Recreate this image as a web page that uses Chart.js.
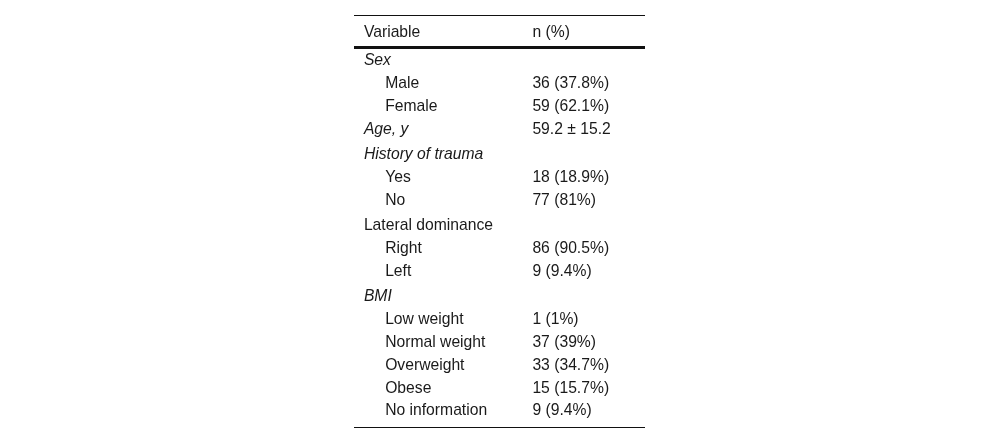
<!DOCTYPE html>
<html lang="en">
<head>
    <meta charset="UTF-8" />
    <title>Patient characteristics</title>
    <script src="https://cdn.jsdelivr.net/npm/chart.js"></script>
    <style>
        html, body { margin: 0; padding: 0; background: #fff; }
        #wrap { width: 1000px; height: 444px; position: relative; }
    </style>
</head>
<body>
    <div id="wrap"><canvas id="tableChart"></canvas></div>

    <script>
        // table content
        const headers = ['Variable', 'n (%)'];
        const groupLabels = ['Sex', 'Age, y', 'History of trauma', 'Lateral dominance', 'BMI'];
        const groupValues = ['', '59.2 \u00b1 15.2', '', '', ''];
        const subLabels = [
            ['Male', 'Female'],
            [],
            ['Yes', 'No'],
            ['Right', 'Left'],
            ['Low weight', 'Normal weight', 'Overweight', 'Obese', 'No information']
        ];
        const subValues = [
            ['36 (37.8%)', '59 (62.1%)'],
            [],
            ['18 (18.9%)', '77 (81%)'],
            ['86 (90.5%)', '9 (9.4%)'],
            ['1 (1%)', '37 (39%)', '33 (34.7%)', '15 (15.7%)', '9 (9.4%)']
        ];

        // styling / layout
        const italicGroups = [true, true, true, false, true];
        const gapBefore = [0, 0, 1, 1, 1];
        const FONT = '"Liberation Sans", Arial, sans-serif';
        const SIZE = 15.7;

        const tablePlugin = {
            id: 'tableText',
            afterDraw(chart) {
                const ctx = chart.ctx;
                const x = chart.scales.x;
                const y = chart.scales.y;
                const area = chart.chartArea;
                const colGroup = x.getPixelForValue(0.034);
                const colSub = x.getPixelForValue(0.107);
                const colVal = x.getPixelForValue(0.613);

                ctx.save();
                ctx.fillStyle = '#1a1a1a';
                ctx.strokeStyle = '#111';
                ctx.textBaseline = 'alphabetic';
                ctx.textAlign = 'left';

                // rules
                const hline = (py, w) => {
                    ctx.lineWidth = w;
                    ctx.beginPath();
                    ctx.moveTo(area.left, py);
                    ctx.lineTo(area.right, py);
                    ctx.stroke();
                };
                hline(Math.round(y.getPixelForValue(0)) + 0.5, 1);
                hline(Math.round(y.getPixelForValue(1.42)) + 0.5, 3);
                hline(Math.round(y.getPixelForValue(y.max)) - 0.5, 1);

                // header
                ctx.font = SIZE + 'px ' + FONT;
                let hy = y.getPixelForValue(0.95);
                ctx.fillText(headers[0], colGroup, hy);
                ctx.fillText(headers[1], colVal, hy);

                // body rows
                let row = 0;
                let gaps = 0;
                groupLabels.forEach((g, gi) => {
                    gaps += gapBefore[gi];
                    const py = y.getPixelForValue(2.19 + row + gaps * 0.11);
                    ctx.font = (italicGroups[gi] ? 'italic ' : '') + SIZE + 'px ' + FONT;
                    ctx.fillText(g, colGroup, py);
                    ctx.font = SIZE + 'px ' + FONT;
                    if (groupValues[gi]) ctx.fillText(groupValues[gi], colVal, py);
                    row++;
                    subLabels[gi].forEach((s, si) => {
                        const sy = y.getPixelForValue(2.19 + row + gaps * 0.11);
                        ctx.fillText(s, colSub, sy);
                        ctx.fillText(subValues[gi][si], colVal, sy);
                        row++;
                    });
                });
                ctx.restore();
            }
        };

        new Chart(document.getElementById('tableChart'), {
            type: 'scatter',
            data: { datasets: [] },
            options: {
                responsive: true,
                maintainAspectRatio: false,
                animation: false,
                layout: { padding: { left: 354, right: 355, top: 15, bottom: 16 } },
                plugins: { legend: { display: false }, tooltip: { enabled: false } },
                scales: {
                    x: { type: 'linear', min: 0, max: 1, display: false },
                    y: { type: 'linear', min: 0, max: 18.07, reverse: true, display: false }
                }
            },
            plugins: [tablePlugin]
        });
    </script>
</body>
</html>
